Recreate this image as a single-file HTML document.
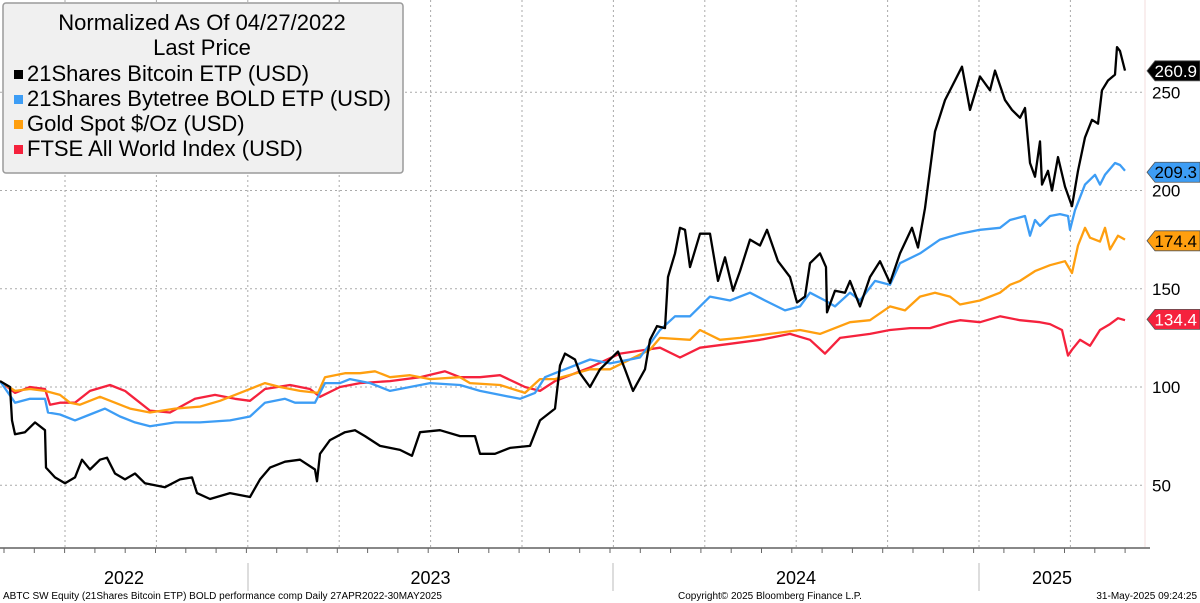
<!DOCTYPE html>
<html><head><meta charset="utf-8"><style>
body{margin:0;background:#fff}
svg{display:block;font-family:"Liberation Sans",sans-serif}
</style></head><body>
<svg id="chart" width="1200" height="603" viewBox="0 0 1200 603">
<g id="grid"></g>
<g id="series"></g>
<g id="axes"></g>
<g>
<rect x="3" y="3" width="400" height="170" rx="3" fill="#f0f0f0" stroke="#9a9a9a" stroke-width="1.5"/>
<text x="202" y="30" text-anchor="middle" font-size="22">Normalized As Of 04/27/2022</text>
<text x="202" y="55" text-anchor="middle" font-size="22">Last Price</text>
<rect x="14" y="70" width="9" height="9" fill="#000"/>
<text x="27" y="81" font-size="22">21Shares Bitcoin ETP (USD)</text>
<rect x="14" y="95" width="9" height="9" fill="#3d9df5"/>
<text x="27" y="106" font-size="22">21Shares Bytetree BOLD ETP (USD)</text>
<rect x="14" y="120" width="9" height="9" fill="#ff9f0f"/>
<text x="27" y="131" font-size="22">Gold Spot $/Oz (USD)</text>
<rect x="14" y="145" width="9" height="9" fill="#f5223d"/>
<text x="27" y="156" font-size="22">FTSE All World Index (USD)</text>
</g>
<g id="tags"></g>
<text x="3" y="599" font-size="10">ABTC SW Equity (21Shares Bitcoin ETP) BOLD performance comp  Daily 27APR2022-30MAY2025</text>
<text x="678" y="599" font-size="10">Copyright© 2025 Bloomberg Finance L.P.</text>
<text x="1197" y="599" font-size="10" text-anchor="end">31-May-2025 09:24:25</text>
</svg>
<script>
const bitcoinDays=[0,10,12,15,25,35,45,46,55,65,75,82,90,100,107,115,125,135,145,165,180,192,197,210,230,250,260,270,285,300,315,317,320,330,345,355,365,380,400,412,420,440,460,475,480,495,510,530,540,555,560,565,575,580,590,600,618,625,633,645,650,657,665,668,675,680,685,690,700,710,718,725,733,740,750,760,767,778,790,797,805,810,820,826,827,835,845,850,860,870,880,890,900,912,918,925,935,945,955,962,970,980,990,995,1005,1012,1020,1025,1030,1035,1040,1042,1048,1052,1058,1065,1072,1078,1085,1092,1098,1102,1108,1115,1117,1120,1125];
const bitcoin=[103,100,83,76,77,82,78,59,54,51,54,63,58,63,64,56,53,56,51,49,53,54,46,43,46,44,53,59,62,63,58,52,66,73,77,78,75,70,68,65,77,78,75,75,66,66,69,70,83,89,111,117,114,107,100,109,118,109,98,109,124,131,130,156,168,181,180,161,178,178,154,166,149,159,175,172,180,164,156,143,146,163,168,161,138,149,148,154,141,156,164,153,168,181,171,191,230,246,256,263,241,258,251,261,246,241,237,242,214,207,225,203,210,200,217,202,192,210,227,236,234,251,256,259,273,271,261];
const boldDays=[0,15,30,45,48,60,75,90,105,120,135,150,175,200,230,250,265,285,295,315,325,340,350,370,390,410,430,460,480,500,520,535,545,555,590,610,640,660,675,690,710,730,750,765,785,800,810,825,835,850,860,875,890,900,920,940,960,980,1000,1010,1025,1030,1035,1040,1050,1060,1068,1070,1075,1085,1095,1100,1105,1115,1120,1125];
const bold=[103,92,94,94,87,86,83,86,89,85,82,80,82,82,83,85,92,94,92,92,102,102,104,102,98,100,102,101,98,96,94,97,105,107,114,112,115,129,136,136,146,144,148,144,139,141,148,144,141,148,144,154,152,163,168,175,178,180,181,185,187,177,185,182,187,188,187,180,190,203,208,203,208,214,213,210];
const goldDays=[0,15,30,45,60,70,80,100,115,130,150,175,200,220,240,265,280,300,318,325,345,360,375,390,410,430,460,470,500,525,540,555,590,610,650,660,690,700,720,740,770,800,820,850,870,890,905,920,935,950,960,980,1000,1010,1020,1035,1050,1065,1072,1078,1085,1090,1100,1105,1110,1118,1125];
const gold=[103,98,99,98,96,92,91,95,92,89,87,89,90,93,97,102,100,98,97,105,107,107,108,105,106,104,105,102,101,97,104,104,109,109,119,125,124,129,124,125,127,129,127,133,134,141,139,146,148,146,142,144,148,152,154,159,162,164,158,172,181,176,174,181,170,177,175];
const ftseDays=[0,15,30,45,50,60,75,90,110,125,135,150,170,195,215,235,250,265,290,310,320,340,360,390,420,445,460,480,500,525,540,555,590,620,660,680,700,730,760,790,810,825,840,870,890,910,930,950,960,980,1000,1020,1040,1050,1062,1068,1072,1080,1090,1100,1110,1118,1125];
const ftse=[103,97,100,99,91,92,92,98,101,98,94,88,87,94,96,94,93,99,101,99,95,100,102,103,105,108,105,105,106,100,98,103,110,117,120,115,120,122,124,127,124,117,125,127,129,130,130,133,134,133,136,134,133,132,129,116,119,124,121,129,132,135,134];
const yTicks=[50,100,150,200,250];
const yearLabels=["2022","2023","2024","2025"];
const yearDays=[-999,248,613,979,1125];
const lastLabels=["260.9","209.3","174.4","134.4"];
const lastValues=[260.9,209.3,174.4,134.4];
const NS="http://www.w3.org/2000/svg";
const X=d=>d*1.0;
const Y=v=>387-(v-100)*1.965;
function mk(tag,attrs,parent){const e=document.createElementNS(NS,tag);for(const k in attrs)e.setAttribute(k,attrs[k]);parent.appendChild(e);return e;}
const grid=document.getElementById('grid'),axes=document.getElementById('axes'),ser=document.getElementById('series'),tags=document.getElementById('tags');
yTicks.forEach(t=>{
 const l=mk('line',{x1:0,x2:1145,y1:Y(t),y2:Y(t),stroke:'#aaa','stroke-dasharray':'2,3','stroke-width':1},grid);
 
 
 const tx=mk('text',{x:1152,y:Y(t)+6,'font-size':17},axes);
 tx.textContent=t;
 
 
});
for(let q=0;q<12;q++){
 const x=65+q*91.4;
 const l=mk('line',{x1:x,x2:x,y1:0,y2:548,stroke:'#aaa','stroke-dasharray':'2,3','stroke-width':1},grid);
 
 
}
const ra=mk('line',{x1:1145,x2:1145,y1:0,y2:548,stroke:'#f3dede','stroke-width':1},axes);


const xa=mk('line',{x1:0,x2:1150,y1:548,y2:548,stroke:'#888','stroke-width':2},axes);


for(let m=0;m<38;m++){
 const x=4+m*30.3;
 const t=mk('line',{x1:x,x2:x,y1:548,y2:553,stroke:'#666'},axes);
 
 
}
yearLabels.forEach((lab,i)=>{
 const a=Math.max(0,X(yearDays[i])),b=X(yearDays[i+1]);
 const tx=mk('text',{x:(a+b)/2,y:584,'font-size':18,'text-anchor':'middle'},axes);
 tx.textContent=lab;
 
 
 if(i>0){const s=mk('line',{x1:a,x2:a,y1:563,y2:591,stroke:'#bbb'},axes);
 
 }
});
const series=[[ftseDays,ftse,'#f5223d','ftse-line'],[goldDays,gold,'#ff9f0f','gold-line'],[boldDays,bold,'#3d9df5','bold-line'],[bitcoinDays,bitcoin,'#000','bitcoin-line']];
series.forEach(([ds,vals,c,n])=>{
 const d=vals.map((v,i)=>(i?'L':'M')+X(ds[i]).toFixed(1)+','+Y(v).toFixed(1)).join('');
 const p=mk('path',{d:d,fill:'none',stroke:c,'stroke-width':2.3,'stroke-linejoin':'round'},ser);
 
 
});
const tagCols=[['#000','#fff'],['#3d9df5','#000'],['#ff9f0f','#000'],['#f5223d','#fff']];
lastValues.forEach((v,i)=>{
 const y=Y(v);
 const g=mk('g',{},tags);
 
 
 mk('path',{d:`M1147,${y} L1155,${y-10} L1200,${y-10} L1200,${y+10} L1155,${y+10} Z`,fill:tagCols[i][0],stroke:'#555','stroke-width':0.8},g);
 const t=mk('text',{x:1197,y:y+6,'font-size':17,'text-anchor':'end',fill:tagCols[i][1]},g);
 t.textContent=lastLabels[i];
});
</script>
</body></html>
